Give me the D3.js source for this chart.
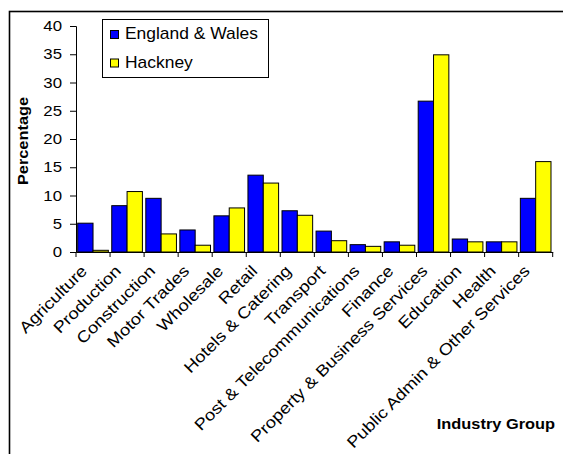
<!DOCTYPE html>
<html>
<head>
<meta charset="utf-8">
<script src="https://cdn.jsdelivr.net/npm/d3@7"></script>
<style>
  html, body { margin: 0; padding: 0; background: #fff; }
  svg { display: block; font-family: "Liberation Sans", Arial, sans-serif; }
</style>
</head>
<body>
<svg id="chart" width="563" height="454"></svg>
<script>
// Employment by industry group, percentage of workforce
const categories = [
  "Agriculture", "Production", "Construction", "Motor Trades", "Wholesale",
  "Retail", "Hotels & Catering", "Transport", "Post & Telecommunications",
  "Finance", "Property & Business Services", "Education", "Health",
  "Public Admin & Other Services"
];
const seriesNames = ["England & Wales", "Hackney"];
const englandWales = [5.1, 8.2, 9.5, 3.9, 6.4, 13.6, 7.3, 3.7, 1.3, 1.8, 26.7, 2.3, 1.8, 9.5];
const hackney      = [0.3, 10.7, 3.2, 1.2, 7.8, 12.2, 6.5, 2.0, 1.0, 1.2, 34.9, 1.8, 1.8, 16.0];
const yTicks = [0, 5, 10, 15, 20, 25, 30, 35, 40];
const seriesColors = ["#0000ff", "#ffff00"];

const values = [englandWales, hackney];
const svg = d3.select("#chart");

// outer chart frame (continues past the right and bottom edges)
svg.append("rect")
  .attr("x", 9.5).attr("y", 11.5)
  .attr("width", 700).attr("height", 600)
  .attr("fill", "#fff").attr("stroke", "#000").attr("stroke-width", 1.6);

const plot = { left: 76, right: 552.7, top: 26, bottom: 252 };

const x = d3.scaleBand()
  .domain(categories)
  .range([plot.left, plot.right])
  .paddingInner(0).paddingOuter(0);

const xs = d3.scaleBand()
  .domain(seriesNames)
  .range([0, x.bandwidth()])
  .paddingInner(0).paddingOuter(0.111);

const y = d3.scaleLinear().domain([0, 40]).range([plot.bottom, plot.top]);

// bars
const groups = svg.append("g").selectAll("g")
  .data(categories)
  .join("g")
  .attr("transform", d => `translate(${x(d)},0)`);

groups.selectAll("rect")
  .data((d, i) => seriesNames.map((s, k) => ({ s, v: values[k][i], k })))
  .join("rect")
  .attr("x", d => xs(d.s))
  .attr("y", d => y(d.v))
  .attr("width", xs.bandwidth())
  .attr("height", d => y(0) - y(d.v))
  .attr("fill", d => seriesColors[d.k])
  .attr("stroke", "#000")
  .attr("stroke-width", 1);

// text helper: stretches glyphs along the writing direction
function label(g, txt, px, py, opts) {
  const o = Object.assign({ size: 14, sx: 1.2, rot: 0, anchor: "start", weight: "normal" }, opts);
  return g.append("text")
    .attr("transform", `translate(${px},${py}) rotate(${o.rot}) scale(${o.sx},1)`)
    .attr("text-anchor", o.anchor)
    .attr("font-size", o.size)
    .attr("font-weight", o.weight)
    .attr("fill", "#000")
    .text(txt);
}

// y axis
const yAxis = svg.append("g")
  .attr("transform", `translate(${plot.left},0)`)
  .call(d3.axisLeft(y).tickValues(yTicks).tickSize(6).tickFormat(""));
yAxis.select(".domain").attr("stroke", "#000");
yAxis.selectAll(".tick line").attr("stroke", "#000");
yTicks.forEach(t => label(svg, String(t), 62, y(t) + 5, { size: 14, sx: 1.2, anchor: "end" }));

// x axis with ticks on category boundaries
const xAxis = svg.append("g")
  .attr("transform", `translate(0,${plot.bottom})`)
  .call(d3.axisBottom(x).tickSize(0).tickFormat(""));
xAxis.select(".domain").attr("stroke", "#000");
const bounds = categories.map(c => x(c)).concat([plot.right]);
xAxis.selectAll("line.bound")
  .data(bounds)
  .join("line")
  .attr("class", "bound")
  .attr("x1", d => d).attr("x2", d => d)
  .attr("y1", 0).attr("y2", 5)
  .attr("stroke", "#000");

// rotated category labels
categories.forEach(c => {
  const cx = x(c) + x.bandwidth() / 2;
  label(svg, c, cx - 5, plot.bottom + 20, { size: 16, sx: 1.15, rot: -45, anchor: "end" });
});

// axis titles
label(svg, "Percentage", 28, 141, { size: 14, sx: 1.17, rot: -90, anchor: "middle", weight: "bold" });
label(svg, "Industry Group", 555, 429, { size: 14, sx: 1.17, anchor: "end", weight: "bold" });

// legend
const lg = svg.append("g");
lg.append("rect")
  .attr("x", 102.5).attr("y", 19.5)
  .attr("width", 166).attr("height", 58)
  .attr("fill", "#fff").attr("stroke", "#000").attr("stroke-width", 1);
seriesNames.forEach((s, k) => {
  const rowY = 39 + k * 28.5;
  lg.append("rect")
    .attr("x", 110.5).attr("y", rowY - 8.5)
    .attr("width", 8).attr("height", 8)
    .attr("fill", seriesColors[k]).attr("stroke", "#000").attr("stroke-width", 1);
  label(lg, s, 125, rowY, { size: 16, sx: 1.09 });
});
</script>
</body>
</html>
